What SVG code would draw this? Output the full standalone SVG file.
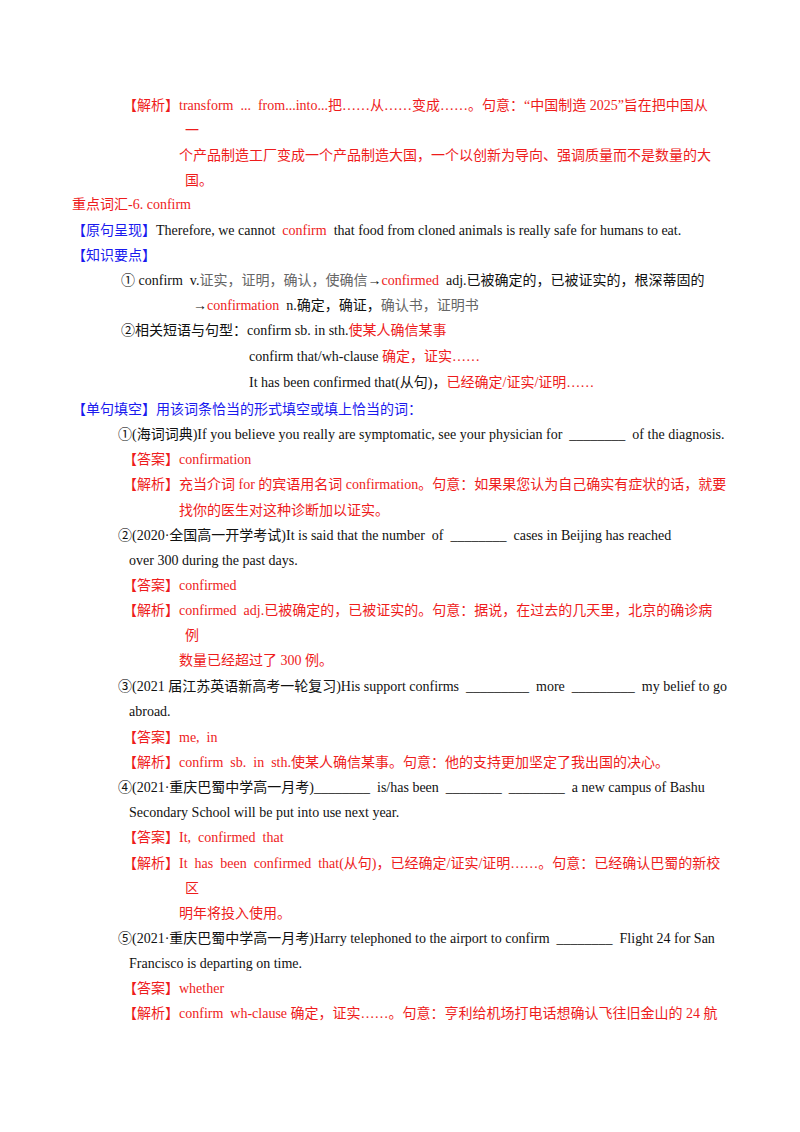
<svg xmlns="http://www.w3.org/2000/svg" width="800" height="1132" viewBox="0 0 800 1132">
<style>
text{font-family:"Liberation Serif","Noto Sans CJK SC",serif;font-size:14px;fill:#111;white-space:pre}
.r{fill:#ee1c1c}.b{fill:#1a1aee}.g{fill:#666}
</style>
<rect width="800" height="1132" fill="#fff"/>
<text x="123" y="110" class="r">【解析】transform  ...  from...into...把……从……变成……。句意：“中国制造 2025”旨在把中国从</text>
<text x="185" y="135" class="r">一</text>
<text x="179" y="160" class="r">个产品制造工厂变成一个产品制造大国，一个以创新为导向、强调质量而不是数量的大</text>
<text x="185" y="185" class="r">国。</text>
<text x="72" y="209" class="r">重点词汇-6. confirm</text>
<text x="72" y="235"><tspan class="b">【原句呈现】</tspan>Therefore, we cannot  <tspan class="r">confirm</tspan>  that food from cloned animals is really safe for humans to eat.</text>
<text x="72" y="260" class="b">【知识要点】</text>
<text x="121" y="285">① confirm  v.<tspan class="g">证实，证明，确认，使确信</tspan>→<tspan class="r">confirmed</tspan>  adj.已被确定的，已被证实的，根深蒂固的</text>
<text x="193" y="310">→<tspan class="r">confirmation</tspan>  n.确定，确证，<tspan class="g">确认书，证明书</tspan></text>
<text x="121" y="335">②相关短语与句型：confirm sb. in sth.<tspan class="r">使某人确信某事</tspan></text>
<text x="249" y="361">confirm that/wh-clause <tspan class="r">确定，证实……</tspan></text>
<text x="249" y="387">It has been confirmed that(从句)，<tspan class="r">已经确定/证实/证明……</tspan></text>
<text x="72" y="414" class="b">【单句填空】用该词条恰当的形式填空或填上恰当的词：</text>
<text x="118" y="439">①(海词词典)If you believe you really are symptomatic, see your physician for  ________  of the diagnosis.</text>
<text x="123" y="464" class="r">【答案】confirmation</text>
<text x="123" y="489" class="r">【解析】充当介词 for 的宾语用名词 confirmation。句意：如果果您认为自己确实有症状的话，就要</text>
<text x="179" y="515" class="r">找你的医生对这种诊断加以证实。</text>
<text x="118" y="540">②(2020·全国高一开学考试)It is said that the number  of  ________  cases in Beijing has reached</text>
<text x="129" y="565">over 300 during the past days.</text>
<text x="123" y="590" class="r">【答案】confirmed</text>
<text x="123" y="615" class="r">【解析】confirmed  adj.已被确定的，已被证实的。句意：据说，在过去的几天里，北京的确诊病</text>
<text x="185" y="640" class="r">例</text>
<text x="179" y="665" class="r">数量已经超过了 300 例。</text>
<text x="118" y="691">③(2021 届江苏英语新高考一轮复习)His support confirms  _________  more  _________  my belief to go</text>
<text x="129" y="716">abroad.</text>
<text x="123" y="742" class="r">【答案】me,  in</text>
<text x="123" y="767" class="r">【解析】confirm  sb.  in  sth.使某人确信某事。句意：他的支持更加坚定了我出国的决心。</text>
<text x="118" y="792">④(2021·重庆巴蜀中学高一月考)________  is/has been  ________  ________  a new campus of Bashu</text>
<text x="129" y="817">Secondary School will be put into use next year.</text>
<text x="123" y="842" class="r">【答案】It,  confirmed  that</text>
<text x="123" y="868" class="r">【解析】It  has  been  confirmed  that(从句)，已经确定/证实/证明……。句意：已经确认巴蜀的新校</text>
<text x="185" y="893" class="r">区</text>
<text x="179" y="918" class="r">明年将投入使用。</text>
<text x="118" y="943">⑤(2021·重庆巴蜀中学高一月考)Harry telephoned to the airport to confirm  ________  Flight 24 for San</text>
<text x="129" y="968">Francisco is departing on time.</text>
<text x="123" y="993" class="r">【答案】whether</text>
<text x="123" y="1018" class="r">【解析】confirm  wh-clause 确定，证实……。句意：亨利给机场打电话想确认飞往旧金山的 24 航</text>
</svg>
